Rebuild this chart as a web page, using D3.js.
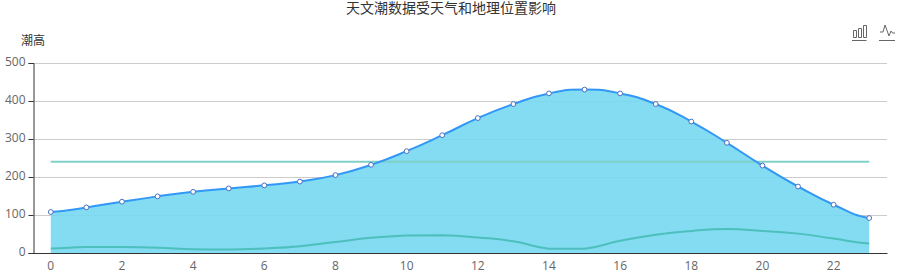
<!DOCTYPE html>
<html>
<head>
<meta charset="utf-8">
<script src="https://cdn.jsdelivr.net/npm/d3@7"></script>
<style>
html, body { margin: 0; padding: 0; background: #fff; overflow: hidden; }
text { font-family: "Noto Sans CJK SC", "Open Sans", sans-serif; }
</style>
</head>
<body>
<div id="chart"></div>
<script>
// Data
const hours = d3.range(0, 24);
const tickLabels = [0, 2, 4, 6, 8, 10, 12, 14, 16, 18, 20, 22];
const yTicks = [0, 100, 200, 300, 400, 500];
const tideHeight = [108, 120, 135, 149, 161, 170, 178, 188, 205, 232, 268, 310, 355, 392, 420, 430, 420, 392, 346, 290, 230, 175, 127, 92];
const secondSeries = [12, 16, 16, 14, 10, 9, 12, 18, 29, 40, 46, 47, 41, 31, 11, 11, 32, 48, 58, 63, 58, 51, 38, 25];
const refValue = 240;

const width = 900;
const height = 271;

const svg = d3.select("#chart").append("svg")
    .attr("width", width)
    .attr("height", height)
    .style("display", "block");

const x = d3.scaleBand().domain(hours).range([33, 887]);
const cx = d => x(d) + x.bandwidth() / 2;
const y = d3.scaleLinear().domain([0, 500]).range([253, 63]);

// Bezier smoothing, control points kept inside the box of each segment
function smoothPath(values) {
    const pts = hours.map(h => [cx(h), y(values[h])]);
    const clamp = (v, a, b) => Math.min(Math.max(v, Math.min(a, b)), Math.max(a, b));
    const dx = x.bandwidth() * 0.5;
    const p = d3.path();
    p.moveTo(pts[0][0], pts[0][1]);
    let cp0 = [pts[0][0] + dx, pts[0][1] + (pts[1][1] - pts[0][1]) * 0.25];
    for (let i = 1; i < pts.length; i++) {
        const cur = pts[i];
        const prev = pts[i - 1];
        const next = pts[i + 1] || cur;
        const dy = (next[1] - prev[1]) * 0.25;
        const cp1 = [cur[0] - dx, clamp(cur[1] - dy, prev[1], cur[1])];
        p.bezierCurveTo(cp0[0], cp0[1], cp1[0], cp1[1], cur[0], cur[1]);
        cp0 = [cur[0] + dx, clamp(cur[1] + dy, cur[1], next[1])];
    }
    return p.toString();
}

// Grid
svg.append("g").selectAll("line")
    .data(yTicks.slice(1))
    .enter().append("line")
    .attr("x1", 33.5).attr("x2", 887)
    .attr("y1", d => Math.round(y(d)) + 0.5).attr("y2", d => Math.round(y(d)) + 0.5)
    .attr("stroke", "#ccc");

// Area under the tide curve
svg.append("path")
    .attr("d", `${smoothPath(tideHeight)}L${cx(23)},${y(0)}L${cx(0)},${y(0)}Z`)
    .attr("fill", "rgb(118,216,240)")
    .attr("fill-opacity", 0.9);

// Reference line
svg.append("line")
    .attr("x1", cx(0)).attr("x2", cx(23))
    .attr("y1", y(refValue)).attr("y2", y(refValue))
    .attr("stroke", "#7fd0c8")
    .attr("stroke-width", 2);

// Lower line
svg.append("path")
    .attr("d", smoothPath(secondSeries))
    .attr("fill", "none")
    .attr("stroke", "#4dbfbd")
    .attr("stroke-width", 2);

// Main line
svg.append("path")
    .attr("d", smoothPath(tideHeight))
    .attr("fill", "none")
    .attr("stroke", "#3398f5")
    .attr("stroke-width", 2);

svg.append("g").selectAll("circle")
    .data(hours)
    .enter().append("circle")
    .attr("cx", cx)
    .attr("cy", d => y(tideHeight[d]))
    .attr("r", 2.4)
    .attr("fill", "#fff")
    .attr("stroke", "#4a70c4")
    .attr("stroke-width", 1);

// Axes
const xAxis = svg.append("g")
    .attr("transform", `translate(0,${y(0)})`)
    .call(d3.axisBottom(x).tickValues(tickLabels).tickSize(0).tickPadding(8));
xAxis.select(".domain").attr("stroke", "#333").attr("stroke-width", 1.2);
xAxis.selectAll("text").attr("font-size", 12).attr("fill", "#666")
    .style("font-family", "'Open Sans', sans-serif");

const yAxis = svg.append("g")
    .attr("transform", "translate(33.5,0)")
    .call(d3.axisLeft(y).tickValues(yTicks).tickSize(5).tickPadding(3));
yAxis.select(".domain").attr("stroke", "#333");
yAxis.selectAll("line").attr("stroke", "#333");
yAxis.selectAll("text").attr("font-size", 12).attr("fill", "#666").attr("dy", "0.22em")
    .style("font-family", "'Open Sans', sans-serif");

// Titles
svg.append("text")
    .attr("x", 451).attr("y", 13)
    .attr("text-anchor", "middle")
    .attr("font-size", 14)
    .attr("fill", "#333")
    .text("天文潮数据受天气和地理位置影响");

svg.append("text")
    .attr("x", 33).attr("y", 45)
    .attr("text-anchor", "middle")
    .attr("font-size", 12)
    .attr("fill", "#333")
    .text("潮高");

// Toolbox icons
const icons = svg.append("g")
    .attr("fill", "none")
    .attr("stroke", "#666")
    .attr("stroke-width", 1);
icons.append("path").attr("d", "M852 40.5H866.500M853.500 30.500h3v7h-3zM858.500 28.500h3v9h-3zM863.500 25.500h3v12h-3z");
icons.append("path").attr("d", "M879 40.500H895M880 32L883 32L885 25L889 36L891 31L892.500 33H895");
</script>
</body>
</html>
